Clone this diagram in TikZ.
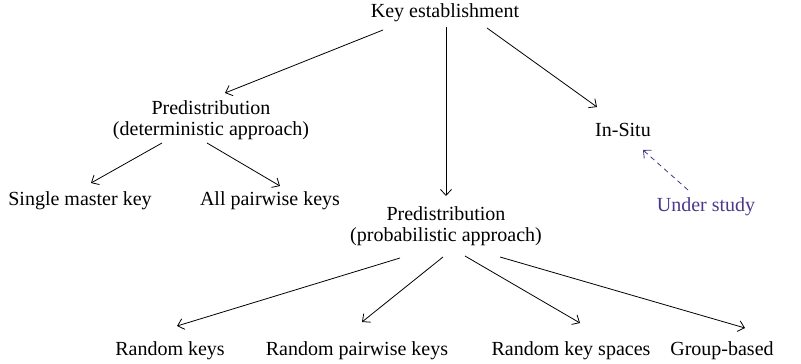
\documentclass[tikz,border=0pt]{standalone}
\usepackage{fontspec}
\setmainfont{Liberation Serif}
\usetikzlibrary{arrows.meta}
\definecolor{study}{RGB}{75,55,140}
\tikzset{
  lbl/.style={inner sep=0pt, align=center, font=\fontsize{20}{21.5}\selectfont},
  arr/.style={-{Straight Barb[length=6pt,width=11pt]}, line width=0.8pt},
  darr/.style={arr, dashed, dash pattern=on 5pt off 4pt, draw=study}
}
\begin{document}
\begin{tikzpicture}[x=1pt,y=-1pt]
\useasboundingbox (0,0) rectangle (801,364);
\node[lbl] (ke) at (445,13) {Key establishment};
\node[lbl] (pd) at (211,120) {Predistribution\\(deterministic approach)};
\node[lbl] (is) at (623,130) {In-Situ};
\node[lbl, text=study] (us) at (706,207) {Under study};
\node[lbl] (sm) at (80,201) {Single master key};
\node[lbl] (ap) at (270,201) {All pairwise keys};
\node[lbl] (pp) at (446,226) {Predistribution\\(probabilistic approach)};
\node[lbl] (rk) at (170,351) {Random keys};
\node[lbl] (rp) at (357,351) {Random pairwise keys};
\node[lbl] (rs) at (571,351) {Random key spaces};
\node[lbl] (gb) at (722,351) {Group-based};

\coordinate (a1s) at (383,30); \coordinate (a1e) at (225,93);
\coordinate (a3s) at (487,28); \coordinate (a3e) at (597,107);
\coordinate (a2s) at (446,27); \coordinate (a2e) at (446,196);
\draw[arr] (a1s) -- (a1e);
\draw[arr] (a2s) -- (a2e);
\draw[arr] (a3s) -- (a3e);
\coordinate (b1s) at (162,143); \coordinate (b1e) at (91,183);
\coordinate (b2s) at (207,143); \coordinate (b2e) at (280,186);
\draw[arr] (b1s) -- (b1e);
\draw[arr] (b2s) -- (b2e);
\coordinate (ds) at (688,190); \coordinate (de) at (643,150);
\draw[darr] (ds) -- (de);
\coordinate (c1s) at (400,258); \coordinate (c1e) at (177,326);
\coordinate (c2s) at (443,257); \coordinate (c2e) at (362,322);
\coordinate (c3s) at (465,256); \coordinate (c3e) at (580,323);
\coordinate (c4s) at (500,257); \coordinate (c4e) at (745,328);
\draw[arr] (c1s) -- (c1e);
\draw[arr] (c2s) -- (c2e);
\draw[arr] (c3s) -- (c3e);
\draw[arr] (c4s) -- (c4e);
\end{tikzpicture}
\end{document}
